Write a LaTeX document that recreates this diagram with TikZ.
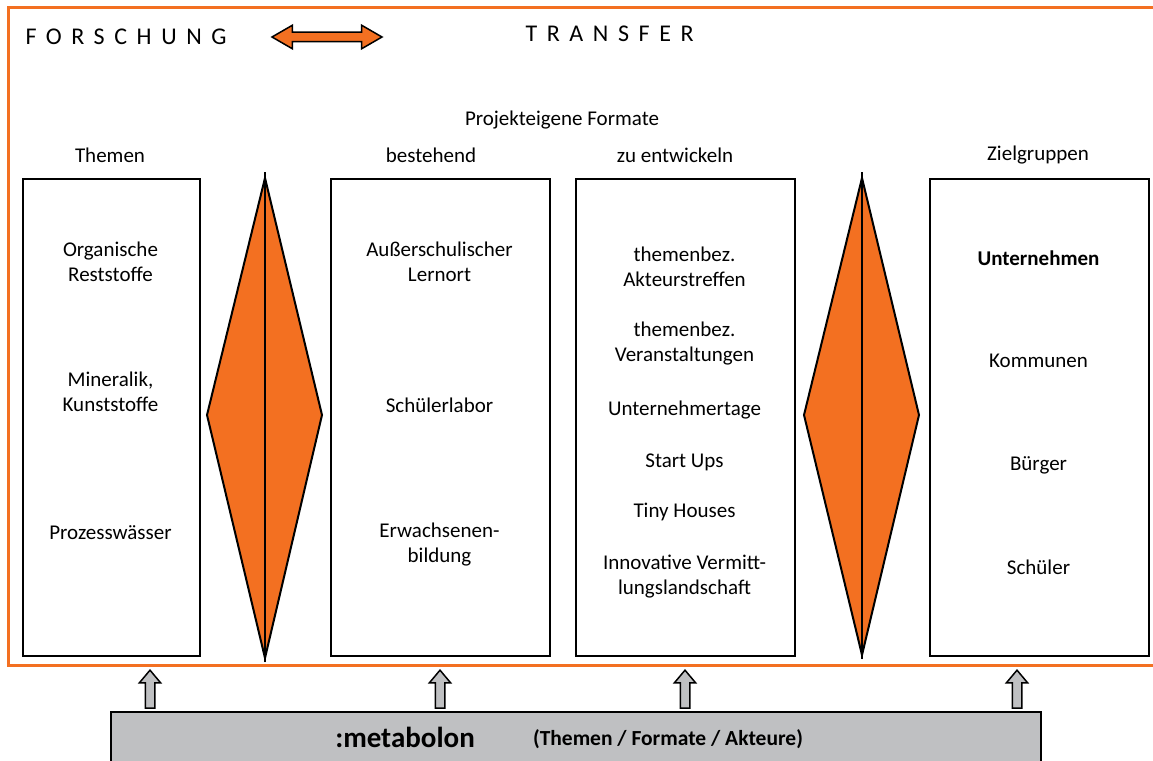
\documentclass[tikz,border=0pt]{standalone}
\usepackage{fontspec}
\setmainfont{Carlito}
\usetikzlibrary{shapes.arrows}
\definecolor{orng}{HTML}{F37021}
\definecolor{grau}{HTML}{BFC0C2}
\begin{document}
\begin{tikzpicture}[x=1pt,y=-1pt,
	panel/.style={draw,line width=2pt,minimum width=#1,minimum height=477pt,inner sep=0pt,anchor=north west},
	heading/.style={font=\fontsize{21}{25}\selectfont},
	entry/.style={font=\fontsize{21}{25}\selectfont,align=center},
	uparrow/.style={draw,fill=grau,line width=1.5pt,single arrow,shape border rotate=90,inner sep=4pt,
		single arrow head extend=6pt,single arrow tip angle=80,minimum height=38pt},
	raute/.style={draw,fill=orng,line width=2pt,line join=miter}]
		\clip (0,0) rectangle (1153,760);
		\draw[orng,line width=3pt] (8,8) rectangle (1175,665);
		% Kopfzeile
		\node[anchor=west,font=\fontsize{24}{28}\selectfont\addfontfeature{LetterSpace=40}] (forschung) at (22,37) {FORSCHUNG};
		\node[anchor=west,font=\fontsize{24}{28}\selectfont\addfontfeature{LetterSpace=40}] (transfer) at (522,34) {TRANSFER};
		\node[draw,fill=orng,line width=1.5pt,double arrow,inner sep=4pt,double arrow head extend=7pt,
			double arrow tip angle=60,minimum height=110pt] (pfeil) at (327,37) {};
		% Spaltentitel
		\node[heading] (formate) at (562,120) {Projekteigene Formate};
		\node[heading] (h-themen) at (110,155) {Themen};
		\node[heading] (h-bestehend) at (431,155) {bestehend};
		\node[heading] (h-neu) at (675,155) {zu entwickeln};
		\node[heading] (h-ziel) at (1038,155) {Zielgruppen};
		% Kaesten
		\node[panel=177pt] (themen) at (22,178) {};
		\node[panel=219pt] (bestehend) at (330,178) {};
		\node[panel=219pt] (neu) at (575,178) {};
		\node[panel=219pt] (ziel) at (929,178) {};
		% Rauten
		\draw[raute] (265,178)--(322,415)--(265,658)--(207,415)--cycle;
		\draw[line width=2pt] (265,172)--(265,662);
		\draw[raute] (862,178)--(919,415)--(862,655)--(804,415)--cycle;
		\draw[line width=2pt] (862,172)--(862,659);
		% Eintraege
		\foreach \y/\t [count=\i] in {262/{Organische\\Reststoffe},392/{Mineralik,\\Kunststoffe},533/{Prozesswässer}}{
			\node[entry] (t\i) at (110.5,\y) {\t};
		}
		\foreach \y/\t [count=\i] in {262/{Außerschulischer\\Lernort},405/{Schülerlabor},545/{Erwachsenen-\\bildung}}{
			\node[entry] (b\i) at (439.5,\y) {\t};
		}
		\foreach \y/\t [count=\i] in {267/{themenbez.\\Akteurstreffen},344/{themenbez.\\Veranstaltungen},410/{Unternehmertage},
			462/{Start Ups},512/{Tiny Houses},577/{Innovative Vermitt-\\lungslandschaft}}{
			\node[entry] (n\i) at (684.5,\y) {\t};
		}
		\foreach \y/\t [count=\i] in {258/{\bfseries Unternehmen},361/{Kommunen},465/{Bürger},567/{Schüler}}{
			\node[entry] (z\i) at (1038.5,\y) {\t};
		}
		% metabolon
		\node[draw,fill=grau,line width=2pt,minimum width=930pt,minimum height=70pt,anchor=north west] (bar) at (110,711) {};
		\node[font=\fontsize{29}{34}\selectfont\bfseries] (meta) at (405,737) {:metabolon};
		\node[font=\fontsize{21.5}{25}\selectfont\bfseries] (akteure) at (668,739) {(Themen / Formate / Akteure)};
		\foreach \x [count=\i] in {150,440,685,1017}{
			\node[uparrow] (a\i) at (\x,692) {};
		}
\end{tikzpicture}
\end{document}
